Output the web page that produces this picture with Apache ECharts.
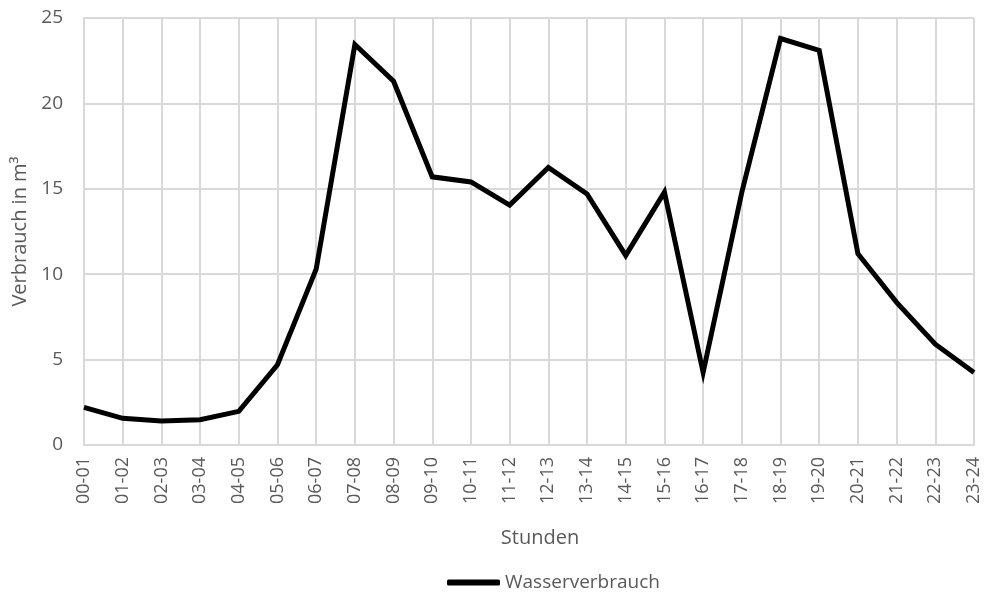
<!DOCTYPE html>
<html>
<head>
<meta charset="utf-8">
<script src="https://cdn.jsdelivr.net/npm/echarts@6/dist/echarts.min.js"></script>
<style>
  html, body { margin: 0; padding: 0; background: #fff; }
  #chart { width: 985px; height: 594px; }
</style>
</head>
<body>
<div id="chart"></div>
<script>
// Hourly time slots
const stunden = ['00-01','01-02','02-03','03-04','04-05','05-06','06-07','07-08','08-09','09-10',
  '10-11','11-12','12-13','13-14','14-15','15-16','16-17','17-18','18-19','19-20',
  '20-21','21-22','22-23','23-24'];

// Water consumption per hour in m³
const wasserverbrauch = [2.2, 1.56, 1.4, 1.48, 1.97, 4.7, 10.3, 23.45, 21.3, 15.7,
  15.4, 14.05, 16.25, 14.7, 11.1, 14.8, 4.25, 14.8, 23.8, 23.1,
  11.2, 8.35, 5.9, 4.25];

const yTicks = { min: 0, max: 25, interval: 5 };

const textColor = '#595959';
const gridColor = '#d9d9d9';
const font = '"Open Sans", sans-serif';

const chart = echarts.init(document.getElementById('chart'));
chart.setOption({
  animation: false,
  backgroundColor: '#ffffff',
  grid: { left: 84, right: 11, top: 18, bottom: 149, containLabel: false },
  legend: {
    left: 442,
    top: 568,
    itemWidth: 53,
    itemHeight: 6,
    icon: 'roundRect',
    textStyle: { color: textColor, fontSize: 19, fontFamily: font },
    data: ['Wasserverbrauch']
  },
  xAxis: {
    type: 'category',
    data: stunden,
    boundaryGap: false,
    name: 'Stunden',
    nameLocation: 'middle',
    nameGap: 83,
    nameTextStyle: { color: textColor, fontSize: 20, fontFamily: font, padding: [0, 0, 0, 22] },
    axisLine: { show: true, lineStyle: { color: gridColor, width: 2 } },
    axisTick: { show: false },
    axisLabel: { rotate: 90, margin: 12, color: textColor, fontSize: 18, fontFamily: font, interval: 0 },
    splitLine: { show: true, lineStyle: { color: gridColor, width: 2 } }
  },
  yAxis: {
    type: 'value',
    min: yTicks.min,
    max: yTicks.max,
    interval: yTicks.interval,
    name: 'Verbrauch in m³',
    nameLocation: 'middle',
    nameGap: 52,
    nameTextStyle: { color: textColor, fontSize: 20, fontFamily: font },
    axisLine: { show: true, lineStyle: { color: gridColor, width: 2 } },
    axisTick: { show: false },
    axisLabel: { margin: 21, color: textColor, fontSize: 19, fontFamily: font },
    splitLine: { show: true, lineStyle: { color: gridColor, width: 2 } }
  },
  series: [{
    name: 'Wasserverbrauch',
    type: 'line',
    data: wasserverbrauch,
    symbol: 'none',
    itemStyle: { color: '#000000' },
    lineStyle: { color: '#000000', width: 5, join: 'miter' }
  }]
});
</script>
</body>
</html>
